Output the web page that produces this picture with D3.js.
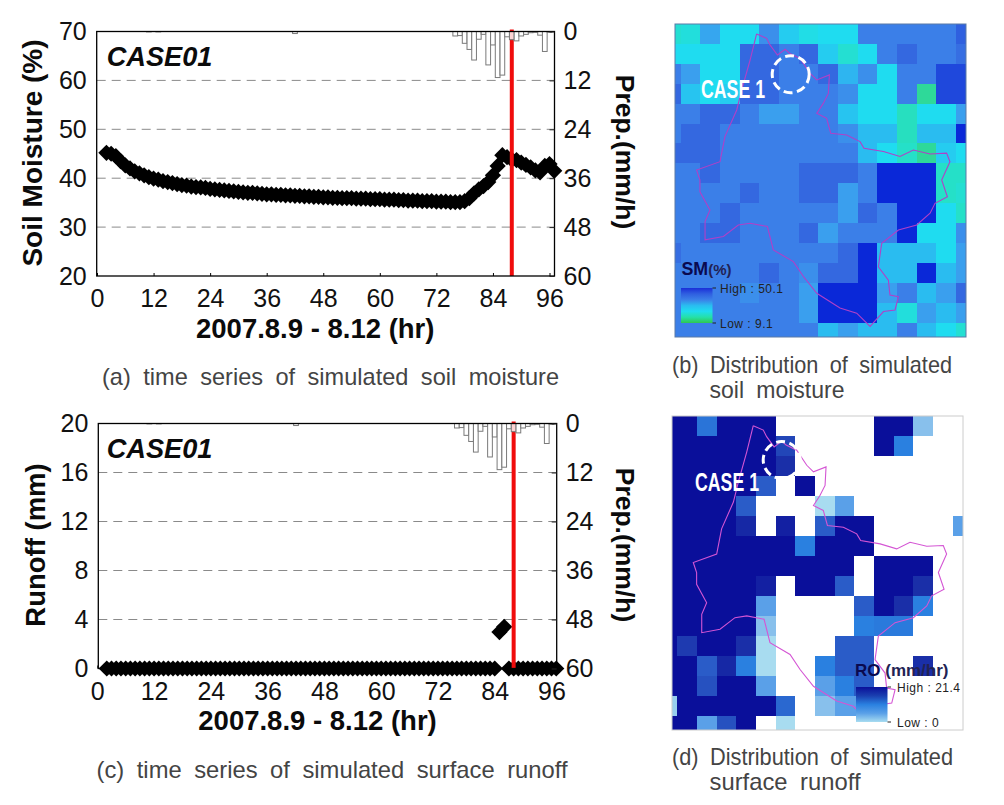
<!DOCTYPE html>
<html><head><meta charset="utf-8">
<script src="https://cdn.jsdelivr.net/npm/d3@7"></script>
<style>
html,body{margin:0;padding:0;background:#fff}
svg{display:block}
text{font-family:"Liberation Sans",Arial,sans-serif}
.cap{fill:#444;font-size:24px;word-spacing:6px}
</style></head><body>
<svg id="c" width="1004" height="805"></svg>
<script>
// ---------- data ----------
const hours = [2,3,4,5,6,7,8,9,10,11,12,13,14,15,16,17,18,19,20,21,22,23,24,25,26,27,28,29,30,31,32,33,34,35,36,37,38,39,40,41,42,43,44,45,46,47,48,49,50,51,52,53,54,55,56,57,58,59,60,61,62,63,64,65,66,67,68,69,70,71,72,73,74,75,76,77,78,79,80,81,82,83,84,85,86,87,88,89,90,91,92,93,94,95,96,97];
const soilMoisture = [45.2,45,44.5,43.5,42.6,42,41.4,41,40.6,40.2,39.9,39.7,39.4,39.2,39,38.8,38.6,38.5,38.3,38.2,38.1,38,37.8,37.7,37.6,37.5,37.4,37.3,37.2,37.1,37,37,36.9,36.8,36.7,36.7,36.6,36.6,36.5,36.5,36.4,36.4,36.3,36.3,36.2,36.2,36.1,36.1,36,36,35.9,35.9,35.9,35.8,35.8,35.8,35.7,35.7,35.7,35.6,35.6,35.6,35.5,35.5,35.4,35.4,35.4,35.3,35.3,35.3,35.2,35.2,35.2,35.1,35.1,35.1,35.3,35.9,36.9,37.7,38.4,39.2,40.6,42.5,44.7,44.3,43.8,43.7,43.2,42.7,42.2,41.6,41.2,42.5,42.9,41.5];
const runoffHours = [2,3,4,5,6,7,8,9,10,11,12,13,14,15,16,17,18,19,20,21,22,23,24,25,26,27,28,29,30,31,32,33,34,35,36,37,38,39,40,41,42,43,44,45,46,47,48,49,50,51,52,53,54,55,56,57,58,59,60,61,62,63,64,65,66,67,68,69,70,71,72,73,74,75,76,77,78,79,80,81,82,83,84,85,86,87,88,89,90,91,92,93,94,95,96,97];
const runoff = [0,0,0,0,0,0,0,0,0,0,0,0,0,0,0,0,0,0,0,0,0,0,0,0,0,0,0,0,0,0,0,0,0,0,0,0,0,0,0,0,0,0,0,0,0,0,0,0,0,0,0,0,0,0,0,0,0,0,0,0,0,0,0,0,0,0,0,0,0,0,0,0,0,0,0,0,0,0,0,0,0,0,0,2.97,3.4,0,0,0,0,0,0,0,0,0,0,0];
const rainHours = [11,12,13,42,76,77,78,79,80,81,82,83,84,85,86,87,88,89,90,91,92,93,94,95,96];
const rainfall = [0.1,0,0.1,0.5,1.1,1,2.9,4.4,7,1.9,0.7,8.2,3.3,11.3,10.7,1.3,2,2.3,1.1,0.7,0.3,0.2,0.9,4.9,0.2];
const eventHour = 88;
const xTicks = [0,12,24,36,48,60,72,84,96];
const smTicks = [20,30,40,50,60,70];
const roTicks = [0,4,8,12,16,20];
const rainTicks = [0,12,24,36,48,60];
const smGrid = [ // simulated soil moisture (%), by map cell
[23,24,33,26,26,36,28,25,26,26,38,38,38,38,38,43],
[26,26,26,26,42,42,38,42,28,23,26,38,42,38,38,41],
[38,34,26,26,42,42,38,38,42,31,36,26,38,38,46,46],
[42,29,26,28,42,42,38,38,38,36,26,26,38,17,46,46],
[38,38,42,42,38,34,34,38,38,29,26,26,21,26,26,34],
[38,42,42,38,38,38,38,38,38,36,30,30,21,30,30,50],
[42,42,42,38,38,38,38,38,38,38,30,26,22,17,28,26],
[38,38,42,38,38,38,38,42,42,42,38,50,50,50,22,22],
[38,38,38,38,42,38,38,42,42,34,38,50,50,50,22,23],
[38,38,38,42,38,38,38,38,38,34,42,38,50,50,26,22],
[38,38,42,42,38,38,38,42,34,38,38,38,50,26,26,36],
[41,38,38,38,38,38,38,38,38,42,50,30,30,30,26,34],
[38,38,38,38,38,42,38,36,42,42,50,30,30,50,30,34],
[38,38,38,38,36,38,38,34,50,50,50,34,38,30,34,42],
[38,38,38,38,38,38,38,34,50,50,50,30,24,34,30,34],
[38,38,38,38,38,38,38,38,30,34,30,30,38,30,26,23]];
const roGrid = [ // simulated surface runoff (mm/hr), by map cell
[21.4,21.4,11,21.4,21.4,21.4,0,0,0,0,0,21.4,21.4,4,0,0],
[21.4,21.4,21.4,21.4,21.4,21.4,15,0,0,0,0,21.4,10,0,0,0],
[21.4,21.4,21.4,21.4,21.4,21.4,17,0,0,0,0,0,0,0,0,0],
[21.4,21.4,21.4,21.4,21.4,13,0,21.4,0,0,0,0,0,0,0,0],
[21.4,21.4,21.4,21.4,13,0,0,0,2,7,0,0,0,0,0,0],
[21.4,21.4,21.4,21.4,18,0,19,0,13,21.4,21.4,0,0,0,0,7],
[21.4,21.4,21.4,21.4,21.4,21.4,21.4,10,21.4,21.4,21.4,0,0,0,0,0],
[21.4,21.4,21.4,21.4,21.4,21.4,21.4,21.4,21.4,21.4,0,21.4,21.4,21.4,0,0],
[21.4,21.4,21.4,21.4,21.4,19,0,21.4,21.4,13,0,21.4,21.4,17,0,0],
[21.4,21.4,21.4,21.4,21.4,7,0,0,0,0,13,21.4,17,10,0,0],
[21.4,21.4,21.4,21.4,21.4,4,0,0,0,0,10,10.5,10.5,0,0,0],
[21.4,16,21.4,21.4,17,2,0,0,0,13,13,0,0,0,0,0],
[21.4,21.4,13,18,10,2,0,0,10,13,13,0,0,17,0,0],
[21.4,21.4,14,21.4,21.4,7,0,0,7,10,13,0,0,0,0,0],
[3,21.4,21.4,21.4,21.4,21.4,12,0,4,7,7,0,0,0,0,0],
[21.4,21.4,7,14,21.4,0,2,0,0,0,0,0,0,0,0,0]];
// catchment outline in map-cell units [column, row]
const basinOutline = [[4.86,0.5],[5.37,0.72],[5.54,1.05],[5.92,1.56],[6.31,1.27],[6.53,1.47],[7.07,1.73],[7.58,2.48],[7.92,2.81],[8.56,2.56],[8.51,3.49],[8.25,3.99],[7.92,4.49],[8.42,4.74],[8.63,5.49],[9.44,5.58],[10.12,5.91],[10.32,6.24],[11.31,6.41],[12.15,6.66],[12.83,6.33],[13.68,6.53],[14.52,6.49],[14.69,6.92],[14.27,7.84],[14.56,8.68],[13.93,9.01],[13.68,9.51],[13,10.1],[12.07,10.35],[11.22,11.02],[11.05,12.2],[11.56,12.87],[11.64,13.62],[12.07,13.7],[11.9,14.37],[11.31,14.45],[10.63,15.2],[9.95,14.53],[9.1,14.27],[7.92,13.53],[7.24,12.69],[6.73,11.94],[5.71,11.35],[5.41,10.18],[4.53,10.01],[3.93,10.1],[3.17,10.68],[2.24,10.85],[2.24,9.93],[2.49,9.35],[1.98,8.43],[1.98,7.84],[1.81,7.34],[3,6.92],[3.25,5.66],[3.85,4.32],[4.1,3.32],[4.53,1.81],[4.86,0.5]];
const legendRamp1 = ["#1a2fd8","#2f5fe0","#3b7fe8","#2abcf0","#1fdcf0","#25e0a8","#30c850"];
const legendRamp2 = ["#0a0f9a","#1a3fb0","#2a80e0","#5aa0e8","#a8dcf0"];
const smStops = [16,22,26,30,34,38,42,50];
const smColors = ["#30d890","#25e0c8","#1fdcf0","#2abcf0","#3a9fee","#3b7fe8","#3468e0","#0a28d8"];
const roStops = [2,4,7,10,13,17,21.4];
const roColors = ["#a8dcf0","#88c0ec","#5aa0e8","#2a80e0","#2a5cc8","#1a2fa8","#0a0f9a"];

// ---------- drawing ----------
const svg = d3.select("#c");
const sq = d3.symbol().type(d3.symbolSquare).size(132);

function chart(o){
  const g = svg.append("g");
  const x = d3.scaleLinear().domain([0,96]).range([o.x0,o.x96]);
  const y = d3.scaleLinear().domain(o.yDomain).range([o.bottom,o.top]);
  const r = d3.scaleLinear().domain([0,60]).range([o.top,o.bottom]);
  g.append("g").selectAll("line").data(o.yTicks.filter(t=>t!==o.yDomain[0]&&t!==o.yDomain[1])).join("line")
    .attr("x1",o.left).attr("x2",o.right).attr("y1",d=>y(d)).attr("y2",d=>y(d))
    .attr("stroke","#8a8a8a").attr("stroke-width",1).attr("stroke-dasharray","9 6");
  g.append("g").selectAll("path").data(o.xs).join("path").attr("d",sq)
    .attr("fill","#000")
    .attr("transform",(d,i)=>`translate(${x(d)},${y(o.ys[i])}) rotate(45)`);
  g.append("line").attr("x1",x(eventHour)).attr("x2",x(eventHour)).attr("y1",o.top-2).attr("y2",o.bottom)
    .attr("stroke","#f00c0c").attr("stroke-width",4);
  g.append("g").selectAll("rect").data(rainHours).join("rect")
    .attr("x",d=>x(d-0.5)).attr("width",x(1)-x(0)).attr("y",o.top)
    .attr("height",(d,i)=>r(rainfall[i])-o.top)
    .attr("fill","#fff").attr("fill-opacity",0.82).attr("stroke","#7a7a7a").attr("stroke-width",1);
  g.append("rect").attr("x",o.left).attr("y",o.top).attr("width",o.right-o.left).attr("height",o.bottom-o.top)
    .attr("fill","none").attr("stroke","#000").attr("stroke-width",1.3);
  const bottom = g.append("g").attr("transform",`translate(0,${o.bottom})`)
    .call(d3.axisBottom(x).tickValues(xTicks).tickSizeInner(-3).tickSizeOuter(0).tickPadding(13.6));
  bottom.select(".domain").remove();
  bottom.selectAll("text").attr("font-size",25).attr("fill","#111").attr("font-family","Liberation Sans");
  const left = g.append("g").attr("transform",`translate(${o.left},0)`)
    .call(d3.axisLeft(y).tickValues(o.yTicks).tickSize(0).tickPadding(10));
  left.select(".domain").remove();
  left.selectAll("text").attr("font-size",25).attr("fill","#111").attr("font-family","Liberation Sans");
  const right = g.append("g").attr("transform",`translate(${o.right},0)`)
    .call(d3.axisRight(r).tickValues(rainTicks).tickSizeInner(-5).tickSizeOuter(0).tickPadding(9));
  right.select(".domain").remove();
  right.selectAll("line").attr("stroke","#222");
  right.selectAll("text").attr("font-size",25).attr("fill","#111").attr("font-family","Liberation Sans");
  g.append("text").attr("transform",`translate(${o.yTitleX},${o.yTitleY}) rotate(-90)`).attr("text-anchor","middle")
    .attr("font-size",o.yTitleSize).attr("font-weight",700).attr("fill","#0b0b0b").text(o.yTitle);
  g.append("text").attr("transform",`translate(616,${o.rainTitleY}) rotate(90)`).attr("text-anchor","middle")
    .attr("font-size",26.5).attr("font-weight",700).attr("fill","#0b0b0b").text("Prep.(mm/h)");
  g.append("text").attr("x",o.xTitleX).attr("y",o.xTitleY)
    .attr("font-size",27.5).attr("font-weight",700).attr("fill","#0b0b0b").text("2007.8.9 - 8.12 (hr)");
  g.append("text").attr("x",106.7).attr("y",o.top+34.5).attr("font-size",27.2).attr("font-weight",700).attr("font-style","italic")
    .attr("fill","#0b0b0b").text("CASE01");
}

chart({left:96.7,right:554.5,x0:97,x96:549.5,top:31.5,bottom:276,yDomain:[20,70],yTicks:smTicks,xs:hours,ys:soilMoisture,
  yTitle:"Soil Moisture (%)",yTitleSize:28,yTitleX:41.7,yTitleY:153,rainTitleY:152,xTitleX:196,xTitleY:338.3});
chart({left:98.3,right:556.7,x0:97.3,x96:551.5,top:423.5,bottom:668.5,yDomain:[0,20],yTicks:roTicks,xs:runoffHours,ys:runoff,
  yTitle:"Runoff (mm)",yTitleSize:27.5,yTitleX:45,yTitleY:545,rainTitleY:545,xTitleX:198.3,xTitleY:730});

function gridMap(o){
  const id="clip"+o.key;
  svg.append("clipPath").attr("id",id).append("rect").attr("x",o.x0).attr("y",o.y0).attr("width",o.x1-o.x0).attr("height",o.y1-o.y0);
  const g = svg.append("g").attr("clip-path",`url(#${id})`);
  const col = d3.scaleLinear().domain([0,1]).range([o.ox,o.ox+19.67]);
  const row = d3.scaleLinear().domain([0,1]).range([o.oy,o.oy+o.rowH]);
  const color = d3.scaleLinear().domain(o.stops).range(o.colors).clamp(true);
  o.grid.forEach((vals,ri)=>{
    g.append("g").selectAll("rect").data(vals).join("rect")
      .attr("x",(d,i)=>Math.round(col(i))).attr("y",Math.round(row(ri)))
      .attr("width",(d,i)=>Math.round(col(i+1))-Math.round(col(i))).attr("height",Math.round(row(ri+1))-Math.round(row(ri)))
      .attr("shape-rendering","crispEdges")
      .attr("fill",d=>d>0?color(d):"#fff");
  });
  g.append("path").attr("d",d3.line().x(d=>col(d[0])).y(d=>row(d[1])).curve(d3.curveLinear)(basinOutline))
    .attr("fill","none").attr("stroke",o.outline).attr("stroke-width",1.1);
  svg.append("rect").attr("x",o.x0).attr("y",o.y0).attr("width",o.x1-o.x0).attr("height",o.y1-o.y0)
    .attr("fill","none").attr("stroke",o.border).attr("stroke-width",1);
  svg.append("circle").attr("cx",o.cx).attr("cy",o.cy).attr("r",18.5).attr("fill","none")
    .attr("stroke","#fff").attr("stroke-width",3).attr("stroke-dasharray","9 4.5");
  svg.append("text").attr("x",o.lx).attr("y",o.ly).attr("font-family","Liberation Sans Narrow").attr("font-weight",700)
    .attr("font-size",25.5).attr("fill","#fff").attr("textLength",64).attr("lengthAdjust","spacingAndGlyphs").text("CASE 1");
  const gid="ramp"+o.key;
  const grad = svg.append("linearGradient").attr("id",gid).attr("x1",0).attr("x2",0).attr("y1",0).attr("y2",1);
  grad.selectAll("stop").data(o.ramp).join("stop").attr("offset",(d,i)=>i/(o.ramp.length-1)).attr("stop-color",d=>d);
  svg.append("rect").attr("x",o.gx).attr("y",o.gy).attr("width",31.5).attr("height",35).attr("fill",`url(#${gid})`);
  [[o.gy,o.hi],[o.gy+35,o.lo]].forEach(([yy,t])=>{
    svg.append("line").attr("x1",o.gx+31.5).attr("x2",o.gx+35).attr("y1",yy).attr("y2",yy).attr("stroke","#222");
    svg.append("text").attr("x",o.labelX).attr("y",yy+4.5).attr("font-size",12).attr("letter-spacing",0.5).attr("fill","#222").text(t);
  });
  const t = svg.append("text").attr("x",o.tx).attr("y",o.ty).attr("font-weight",700).attr("fill","#0a0a50");
  t.append("tspan").attr("font-size",o.t1s).text(o.t1);
  t.append("tspan").attr("font-size",o.t2s).attr("fill","#222254").text(o.t2);
}
gridMap({key:"a",grid:smGrid,stops:smStops,colors:smColors,ox:661,oy:24,rowH:19.9,x0:675,x1:966,y0:24,y1:337,
  outline:"#b040c8",border:"#5a7aa8",cx:790.7,cy:74.3,lx:701,ly:98,ramp:legendRamp1,gx:681,gy:288,labelX:720,hi:"High : 50.1",lo:"Low : 9.1",
  tx:681.5,ty:275,t1:"SM",t1s:17.8,t2:"(%)",t2s:15});
gridMap({key:"b",grid:roGrid,stops:roStops,colors:roColors,ox:657.67,oy:415.67,rowH:20,x0:672,x1:963,y0:416,y1:730,
  outline:"#d455d4",border:"#cccccc",cx:781.7,cy:460,lx:695,ly:491,ramp:legendRamp2,gx:856,gy:687,labelX:897,hi:"High : 21.4",lo:"Low : 0",
  tx:855,ty:675.7,t1:"RO",t1s:17,t2:" (mm/hr)",t2s:17});

const captions = [
  ["(a) time series of simulated soil moisture",102,385,457],
  ["(b) Distribution of simulated",672,373,280],
  ["soil moisture",709.5,398,135],
  ["(c) time series of simulated surface runoff",96.5,778,471],
  ["(d) Distribution of simulated",672,765,281],
  ["surface runoff",709.5,790,151]];
svg.append("g").selectAll("text").data(captions).join("text").attr("class","cap")
  .attr("x",d=>d[1]).attr("y",d=>d[2]).attr("textLength",d=>d[3]).attr("lengthAdjust","spacingAndGlyphs").text(d=>d[0]);
</script></body></html>
